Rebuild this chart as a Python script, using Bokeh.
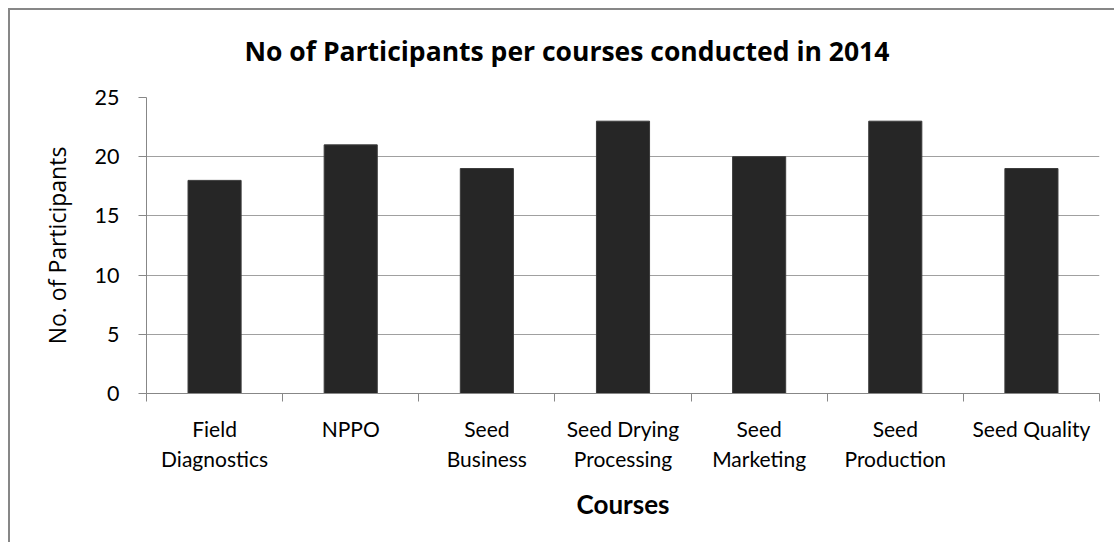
from bokeh.plotting import figure
from bokeh.models import Range1d, FixedTicker
from bokeh.embed import file_html
from bokeh.resources import INLINE

# Data
title_text = "No of Participants per courses conducted in 2014"
courses = ["Field Diagnostics", "NPPO", "Seed Business", "Seed Drying Processing",
           "Seed Marketing", "Seed Production", "Seed Quality"]
course_labels = ["Field\nDiagnostics", "NPPO", "Seed\nBusiness", "Seed Drying\nProcessing",
                 "Seed\nMarketing", "Seed\nProduction", "Seed Quality"]
participants = [18, 21, 19, 23, 20, 23, 19]
y_ticks = [0, 5, 10, 15, 20, 25]

FONT = "Lato"
positions = list(range(len(courses)))
boundaries = [i - 0.5 for i in range(len(courses) + 1)]

p = figure(width=1106, height=534, output_backend="svg", toolbar_location=None,
           x_range=Range1d(-0.5, len(courses) - 0.5), y_range=Range1d(0, 25),
           title=title_text,
           min_border_left=136, min_border_top=87, min_border_right=17, min_border_bottom=151)
p.styles = {"margin-left": "8px", "margin-top": "8px",
            "border-left": "2px solid #878787", "border-top": "2px solid #878787"}

p.vbar(x=positions, top=participants, width=0.39, fill_color="#262626", line_color="#3a3a3a")

p.outline_line_color = None
p.background_fill_color = "white"
p.border_fill_color = "white"

# title
p.title.text_font = "Open Sans"
p.title.text_font_size = "26.5px"
p.title.text_font_style = "bold"
p.title.align = "left"
p.title.offset = 98
p.title.standoff = 0
p.title.padding = dict(left=0, right=0, top=0, bottom=29)
p.title.text_color = "#000000"

# grid
p.xgrid.grid_line_color = None
p.ygrid.grid_line_color = "#a0a0a0"
p.ygrid.grid_line_width = 1
p.ygrid.ticker = FixedTicker(ticks=y_ticks)

# x axis
xa = p.xaxis[0]
xa.ticker = FixedTicker(ticks=positions, minor_ticks=boundaries)
xa.major_label_overrides = {i: lab for i, lab in zip(positions, course_labels)}
xa.major_tick_out = 0
xa.major_tick_in = 0
xa.minor_tick_out = 8
xa.minor_tick_in = 0
xa.minor_tick_line_color = "#878787"
xa.axis_line_color = "#878787"
xa.major_label_text_font = FONT
xa.major_label_text_font_size = "21px"
xa.major_label_text_color = "#000000"
xa.major_label_standoff = 14
xa.axis_label = "Courses"
xa.axis_label_text_font = FONT
xa.axis_label_text_font_size = "26px"
xa.axis_label_text_font_style = "bold"
xa.axis_label_text_color = "#000000"
xa.axis_label_standoff = 14

# y axis
ya = p.yaxis[0]
ya.ticker = FixedTicker(ticks=y_ticks)
ya.minor_tick_out = 0
ya.minor_tick_in = 0
ya.major_tick_out = 8
ya.major_tick_in = 0
ya.major_tick_line_color = "#878787"
ya.axis_line_color = "#878787"
ya.major_label_text_font = FONT
ya.major_label_text_font_size = "21.5px"
ya.major_label_text_color = "#000000"
ya.major_label_standoff = 19
ya.axis_label = "No. of Participants"
ya.axis_label_text_font = "Open Sans"
ya.axis_label_text_font_size = "23px"
ya.axis_label_text_font_style = "normal"
ya.axis_label_text_color = "#000000"
ya.axis_label_standoff = 19

open("out.html", "w").write(file_html(p, INLINE))
